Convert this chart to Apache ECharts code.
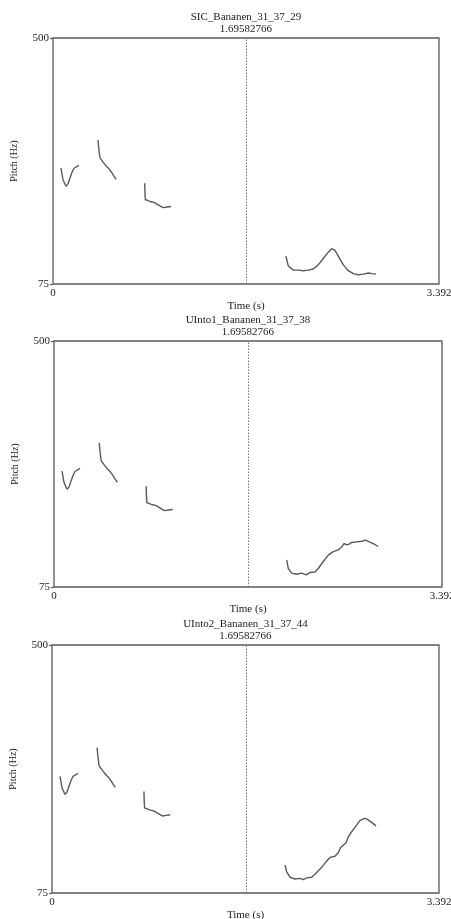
<!DOCTYPE html>
<html>
<head>
<meta charset="utf-8">
<script src="https://cdn.jsdelivr.net/npm/echarts@6/dist/echarts.min.js"></script>
<style>
html,body{margin:0;padding:0;background:#fff;}
#chart{width:451px;height:919px;}
</style>
</head>
<body>
<div id="chart"></div>
<script>
// ---- data ----
var titles = ['SIC_Bananen_31_37_29', 'UInto1_Bananen_31_37_38', 'UInto2_Bananen_31_37_44'];
var cursorTime = 1.69582766;
var cursorLabel = '1.69582766';
var timeRange = [0, 3.392];
var pitchRange = [75, 500];
var xTickLabels = ['0', '3.392'];
var yTickLabels = ['75', '500'];

// shared first three contours (time s, pitch Hz)
var seg1 = [[0.070,275],[0.088,255],[0.114,244],[0.132,248],[0.149,258],[0.167,268],[0.185,275],[0.202,277],[0.220,279],[0.228,280]];
var seg2 = [[0.395,324],[0.404,306],[0.413,293],[0.439,286],[0.466,279],[0.492,274],[0.518,267],[0.536,261],[0.554,256]];
var seg3 = [[0.806,249],[0.808,234],[0.811,221],[0.835,219],[0.861,217],[0.888,216],[0.914,213],[0.940,210],[0.967,207],[0.984,206],[1.002,208],[1.019,205],[1.037,209]];

// last contour per panel
var seg4SIC = [[2.047,123],[2.068,106],[2.112,99],[2.156,99],[2.199,98],[2.243,99],[2.287,101],[2.331,108],[2.375,119],[2.419,130],[2.449,136],[2.478,133],[2.507,123],[2.551,108],[2.595,98],[2.639,93],[2.683,91],[2.727,92],[2.771,94],[2.801,93],[2.838,92]];
var seg4UInto1 = [[2.034,122],[2.048,107],[2.078,99],[2.122,97],[2.165,99],[2.203,96],[2.238,100],[2.281,101],[2.310,107],[2.354,119],[2.398,130],[2.441,136],[2.485,139],[2.515,144],[2.535,150],[2.559,148],[2.581,149],[2.602,152],[2.646,153],[2.690,154],[2.727,156],[2.756,153],[2.791,150],[2.835,145]];
var seg4UInto2 = [[2.042,123],[2.057,111],[2.086,102],[2.130,99],[2.174,100],[2.202,98],[2.232,101],[2.276,102],[2.320,110],[2.364,119],[2.408,130],[2.437,136],[2.480,138],[2.509,144],[2.530,153],[2.553,157],[2.577,161],[2.597,171],[2.627,180],[2.664,190],[2.699,199],[2.737,203],[2.758,202],[2.802,196],[2.840,190]];

var lastSegs = [seg4SIC, seg4UInto1, seg4UInto2];

// ---- layout ----
var grids = [
  {left: 53, right: 12, top: 38, height: 246},
  {left: 54, right: 9, top: 341, height: 246},
  {left: 52, right: 12, top: 645, height: 248}
];
var FONT = '"Liberation Serif", "DejaVu Serif", serif';
var TXT = '#222';
var LINE = '#5a5a5a';

function joinSegs(list) {
  var out = [];
  list.forEach(function (s, i) {
    if (i > 0) out.push(null);
    s.forEach(function (p) { out.push(p); });
  });
  return out;
}

var option = {
  animation: false,
  backgroundColor: '#fff',
  grid: [], xAxis: [], yAxis: [], series: [], graphic: []
};

grids.forEach(function (g, i) {
  option.grid.push({left: g.left, right: g.right, top: g.top, height: g.height,
    containLabel: false, outerBoundsMode: 'none',
    show: true, borderColor: LINE, borderWidth: 1.3, backgroundColor: 'transparent'});
  option.xAxis.push({
    type: 'value', gridIndex: i, min: timeRange[0], max: timeRange[1],
    name: 'Time (s)', nameLocation: 'middle', nameGap: 17,
    nameTextStyle: {fontFamily: FONT, fontSize: 11, color: TXT},
    axisLine: {show: false}, axisTick: {show: false}, splitLine: {show: false},
    axisLabel: {customValues: timeRange, margin: 4, fontFamily: FONT, fontSize: 11, color: TXT,
      hideOverlap: false,
      formatter: function (v) { return v === timeRange[0] ? xTickLabels[0] : xTickLabels[1]; }}
  });
  option.yAxis.push({
    type: 'value', gridIndex: i, min: pitchRange[0], max: pitchRange[1],
    name: 'Pitch (Hz)', nameLocation: 'middle', nameGap: 34, nameRotate: 90,
    nameTextStyle: {fontFamily: FONT, fontSize: 10, color: TXT},
    axisLine: {show: false}, splitLine: {show: false},
    axisTick: {show: true, customValues: pitchRange, length: 3, lineStyle: {color: LINE, width: 1.2}},
    axisLabel: {customValues: pitchRange, margin: 4, fontFamily: FONT, fontSize: 11, color: TXT,
      formatter: function (v) { return v === pitchRange[0] ? yTickLabels[0] : yTickLabels[1]; }}
  });
  option.series.push({
    type: 'line', xAxisIndex: i, yAxisIndex: i,
    data: joinSegs([seg1, seg2, seg3, lastSegs[i]]),
    connectNulls: false, showSymbol: false, symbol: 'none',
    lineStyle: {color: LINE, width: 1.4},
    markLine: {
      silent: true, symbol: ['none', 'none'], label: {show: false},
      lineStyle: {color: '#777', type: [1.5, 1.5], width: 1},
      data: [{xAxis: cursorTime}]
    }
  });
  var cx = g.left + (451 - g.left - g.right) * (cursorTime / timeRange[1]);
  option.graphic.push({type: 'text', x: cx, y: g.top - 21,
    style: {text: titles[i], textAlign: 'center', textVerticalAlign: 'middle', font: '11px ' + FONT, fill: TXT}});
  option.graphic.push({type: 'text', x: cx, y: g.top - 9,
    style: {text: cursorLabel, textAlign: 'center', textVerticalAlign: 'middle', font: '11px ' + FONT, fill: TXT}});
});

var chart = echarts.init(document.getElementById('chart'), null, {renderer: 'canvas'});
chart.setOption(option);
</script>
</body>
</html>
